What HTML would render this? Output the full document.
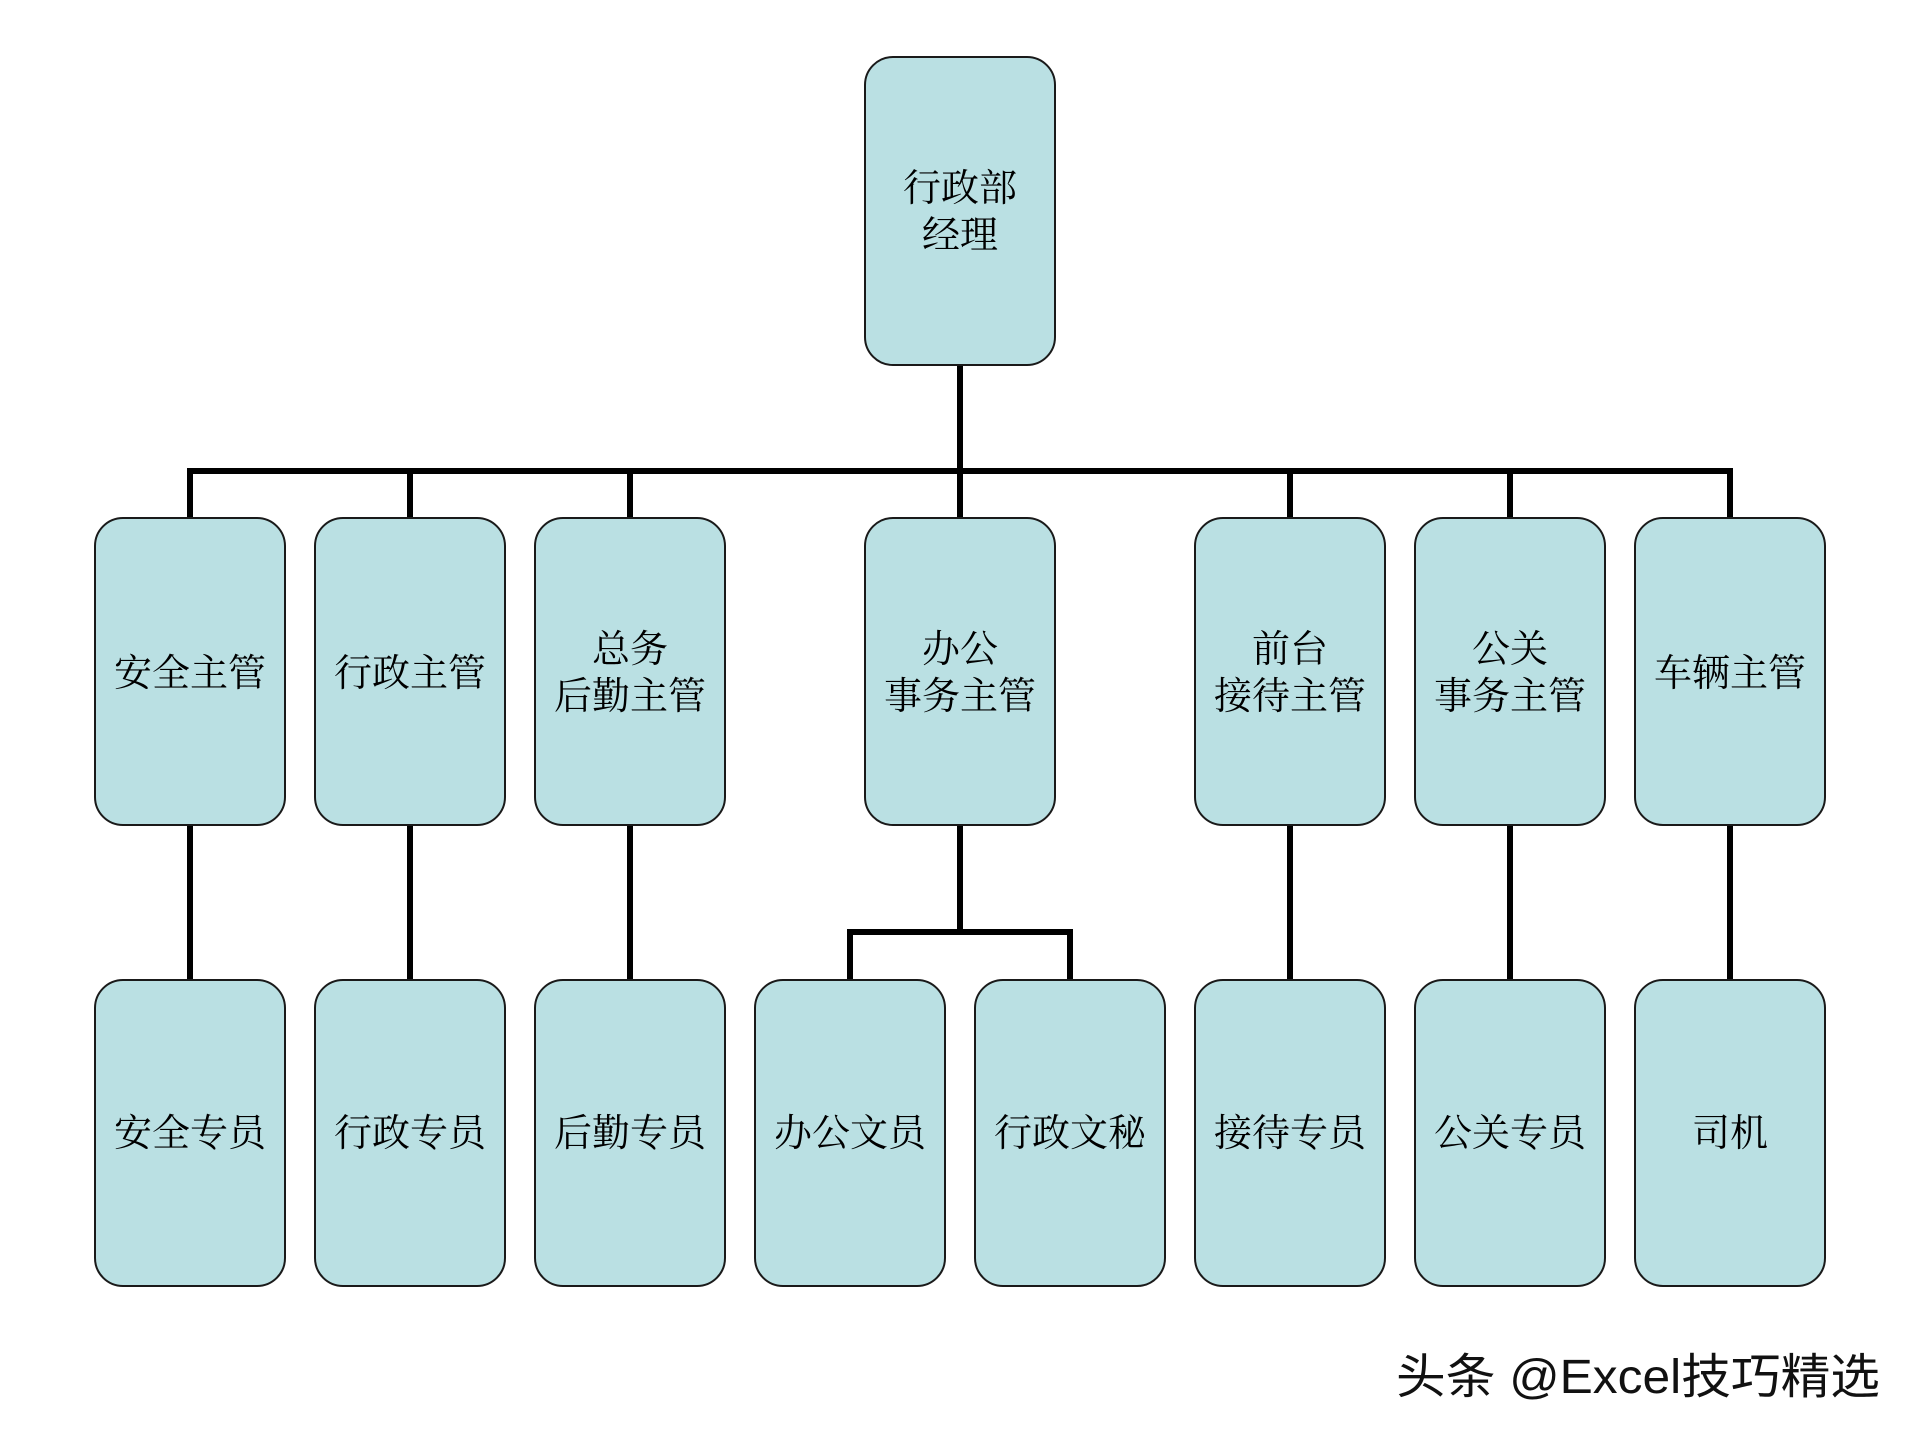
<!DOCTYPE html>
<html>
<head>
<meta charset="utf-8">
<style>
  html, body { margin: 0; padding: 0; background: #ffffff; }
  body { width: 1920px; height: 1440px; overflow: hidden; }
  svg { display: block; }
  .bx { fill: #bae0e3; stroke: #1a1a1a; stroke-width: 2; }
  .ln { fill: none; stroke: #000; stroke-width: 6; stroke-linejoin: miter; stroke-linecap: square; }
  .t { font-family: "Liberation Serif", "Noto Serif CJK SC", "Noto Serif CJK JP", "Noto Serif CJK TC", serif; font-size: 38px; fill: #000; text-anchor: middle; }
  .wm { font-family: "Liberation Sans", "Noto Sans CJK SC", sans-serif; font-size: 48px; fill: #111; }
</style>
</head>
<body>
<svg width="1920" height="1440" viewBox="0 0 1920 1440" xmlns="http://www.w3.org/2000/svg">
  <!-- connectors -->
  <path class="ln" d="M960 367 V471"/>
  <path class="ln" d="M190 518 V471 H1730 V518"/>
  <path class="ln" d="M410 471 V518"/>
  <path class="ln" d="M630 471 V518"/>
  <path class="ln" d="M960 471 V518"/>
  <path class="ln" d="M1290 471 V518"/>
  <path class="ln" d="M1510 471 V518"/>

  <path class="ln" d="M190 827 V980"/>
  <path class="ln" d="M410 827 V980"/>
  <path class="ln" d="M630 827 V980"/>
  <path class="ln" d="M1290 827 V980"/>
  <path class="ln" d="M1510 827 V980"/>
  <path class="ln" d="M1730 827 V980"/>
  <path class="ln" d="M960 827 V932"/>
  <path class="ln" d="M850 980 V932 H1070 V980"/>

  <!-- top box -->
  <rect class="bx" x="865" y="57" width="190" height="308" rx="28" ry="28"/>
  <text class="t" x="960" y="201">行政部</text>
  <text class="t" x="960" y="248">经理</text>

  <!-- row 2 -->
  <rect class="bx" x="95" y="518" width="190" height="307" rx="28" ry="28"/>
  <text class="t" x="190" y="686">安全主管</text>

  <rect class="bx" x="315" y="518" width="190" height="307" rx="28" ry="28"/>
  <text class="t" x="410" y="686">行政主管</text>

  <rect class="bx" x="535" y="518" width="190" height="307" rx="28" ry="28"/>
  <text class="t" x="630" y="662">总务</text>
  <text class="t" x="630" y="709">后勤主管</text>

  <rect class="bx" x="865" y="518" width="190" height="307" rx="28" ry="28"/>
  <text class="t" x="960" y="662">办公</text>
  <text class="t" x="960" y="709">事务主管</text>

  <rect class="bx" x="1195" y="518" width="190" height="307" rx="28" ry="28"/>
  <text class="t" x="1290" y="662">前台</text>
  <text class="t" x="1290" y="709">接待主管</text>

  <rect class="bx" x="1415" y="518" width="190" height="307" rx="28" ry="28"/>
  <text class="t" x="1510" y="662">公关</text>
  <text class="t" x="1510" y="709">事务主管</text>

  <rect class="bx" x="1635" y="518" width="190" height="307" rx="28" ry="28"/>
  <text class="t" x="1730" y="686">车辆主管</text>

  <!-- row 3 -->
  <rect class="bx" x="95" y="980" width="190" height="306" rx="28" ry="28"/>
  <text class="t" x="190" y="1146">安全专员</text>

  <rect class="bx" x="315" y="980" width="190" height="306" rx="28" ry="28"/>
  <text class="t" x="410" y="1146">行政专员</text>

  <rect class="bx" x="535" y="980" width="190" height="306" rx="28" ry="28"/>
  <text class="t" x="630" y="1146">后勤专员</text>

  <rect class="bx" x="755" y="980" width="190" height="306" rx="28" ry="28"/>
  <text class="t" x="850" y="1146">办公文员</text>

  <rect class="bx" x="975" y="980" width="190" height="306" rx="28" ry="28"/>
  <text class="t" x="1070" y="1146">行政文秘</text>

  <rect class="bx" x="1195" y="980" width="190" height="306" rx="28" ry="28"/>
  <text class="t" x="1290" y="1146">接待专员</text>

  <rect class="bx" x="1415" y="980" width="190" height="306" rx="28" ry="28"/>
  <text class="t" x="1510" y="1146">公关专员</text>

  <rect class="bx" x="1635" y="980" width="190" height="306" rx="28" ry="28"/>
  <text class="t" x="1730" y="1146">司机</text>

  <!-- watermark -->
  <text class="wm" x="1396" y="1393" textLength="484" lengthAdjust="spacingAndGlyphs">头条 @Excel技巧精选</text>
</svg>
</body>
</html>
